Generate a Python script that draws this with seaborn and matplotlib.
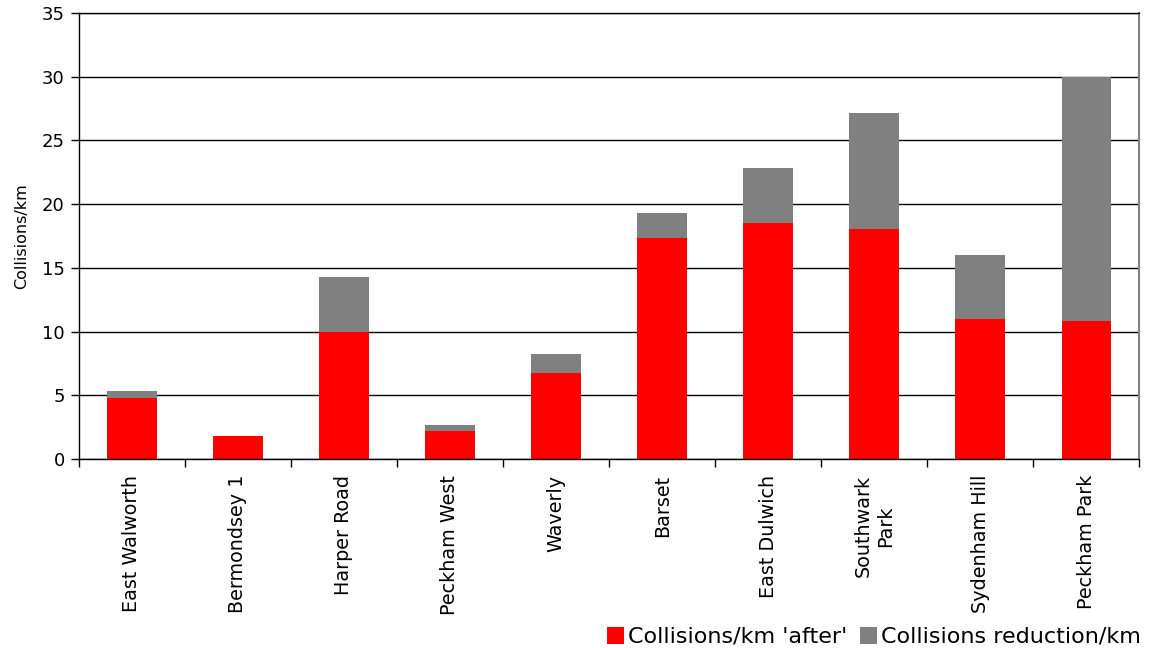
import matplotlib
matplotlib.use("Agg")
import matplotlib.pyplot as plt
from matplotlib.patches import Patch
import numpy as np
import pandas as pd
import seaborn as sns

# Schemes, collisions per km after treatment, and the reduction achieved
schemes = ["East Walworth", "Bermondsey 1", "Harper Road", "Peckham West", "Waverly",
           "Barset", "East Dulwich", "Southwark\nPark", "Sydenham Hill", "Peckham Park"]
after = [4.8, 1.8, 10.0, 2.2, 6.75, 17.35, 18.5, 18.05, 11.0, 10.85]
reduction = [0.5, 0.0, 4.3, 0.45, 1.45, 1.95, 4.3, 9.1, 5.0, 19.15]
y_ticks = [0, 5, 10, 15, 20, 25, 30, 35]

df = pd.DataFrame({"scheme": schemes, "after": after, "reduction": reduction})
df["total"] = df["after"] + df["reduction"]

sns.set_theme(style="white")
plt.rcParams["font.family"] = ["DejaVu Sans"]

fig = plt.figure(figsize=(11.58, 6.48), dpi=100)
ax = fig.add_axes([0.068, 0.2917, 0.916, 0.6883])

RED = "#ff0000"
GREY = "#808080"

# stacked bars: grey totals behind, red 'after' values in front
sns.barplot(data=df, x="scheme", y="total", color=GREY, width=0.47,
            saturation=1, ax=ax, linewidth=0)
sns.barplot(data=df, x="scheme", y="after", color=RED, width=0.47,
            saturation=1, ax=ax, linewidth=0)

ax.set_ylim(0, 35)
ax.set_xlim(-0.5, len(schemes) - 0.5)
ax.set_yticks(y_ticks)
ax.set_yticklabels([str(v) for v in y_ticks], fontsize=13, color="black")
ax.yaxis.grid(True, color="black", linewidth=1)
ax.set_axisbelow(True)

# labels at bar centres, tick marks on category boundaries
ax.set_xticks(range(len(schemes)))
ax.set_xticklabels(schemes, rotation=90, fontsize=13.8, color="black",
                   ha="center", va="top", multialignment="center")
ax.set_xticks(np.arange(-0.5, len(schemes) + 0.5, 1), minor=True)
ax.tick_params(axis="x", which="major", length=0, pad=11.5)
ax.tick_params(axis="x", which="minor", length=6, width=1, color="black", direction="out", bottom=True)
ax.tick_params(axis="y", length=6, width=1, color="black", direction="out", left=True, pad=4)

ax.set_xlabel("")
ax.set_ylabel("Collisions/km", fontsize=11.5, color="black", labelpad=9)

for side in ["left", "bottom", "top"]:
    ax.spines[side].set_color("black")
    ax.spines[side].set_linewidth(1)
ax.spines["right"].set_color(GREY)
ax.spines["right"].set_linewidth(1.5)

handles = [Patch(facecolor=RED, edgecolor="none", label="Collisions/km 'after'"),
           Patch(facecolor=GREY, edgecolor="none", label="Collisions reduction/km")]
fig.legend(handles=handles, loc="lower right", bbox_to_anchor=(0.997, -0.019),
           ncol=2, frameon=False, fontsize=16, labelcolor="black",
           handlelength=0.77, handleheight=0.77,
           handletextpad=0.2, columnspacing=0.55, borderaxespad=0.2)

fig.savefig("out.png", dpi=100, facecolor="white")
